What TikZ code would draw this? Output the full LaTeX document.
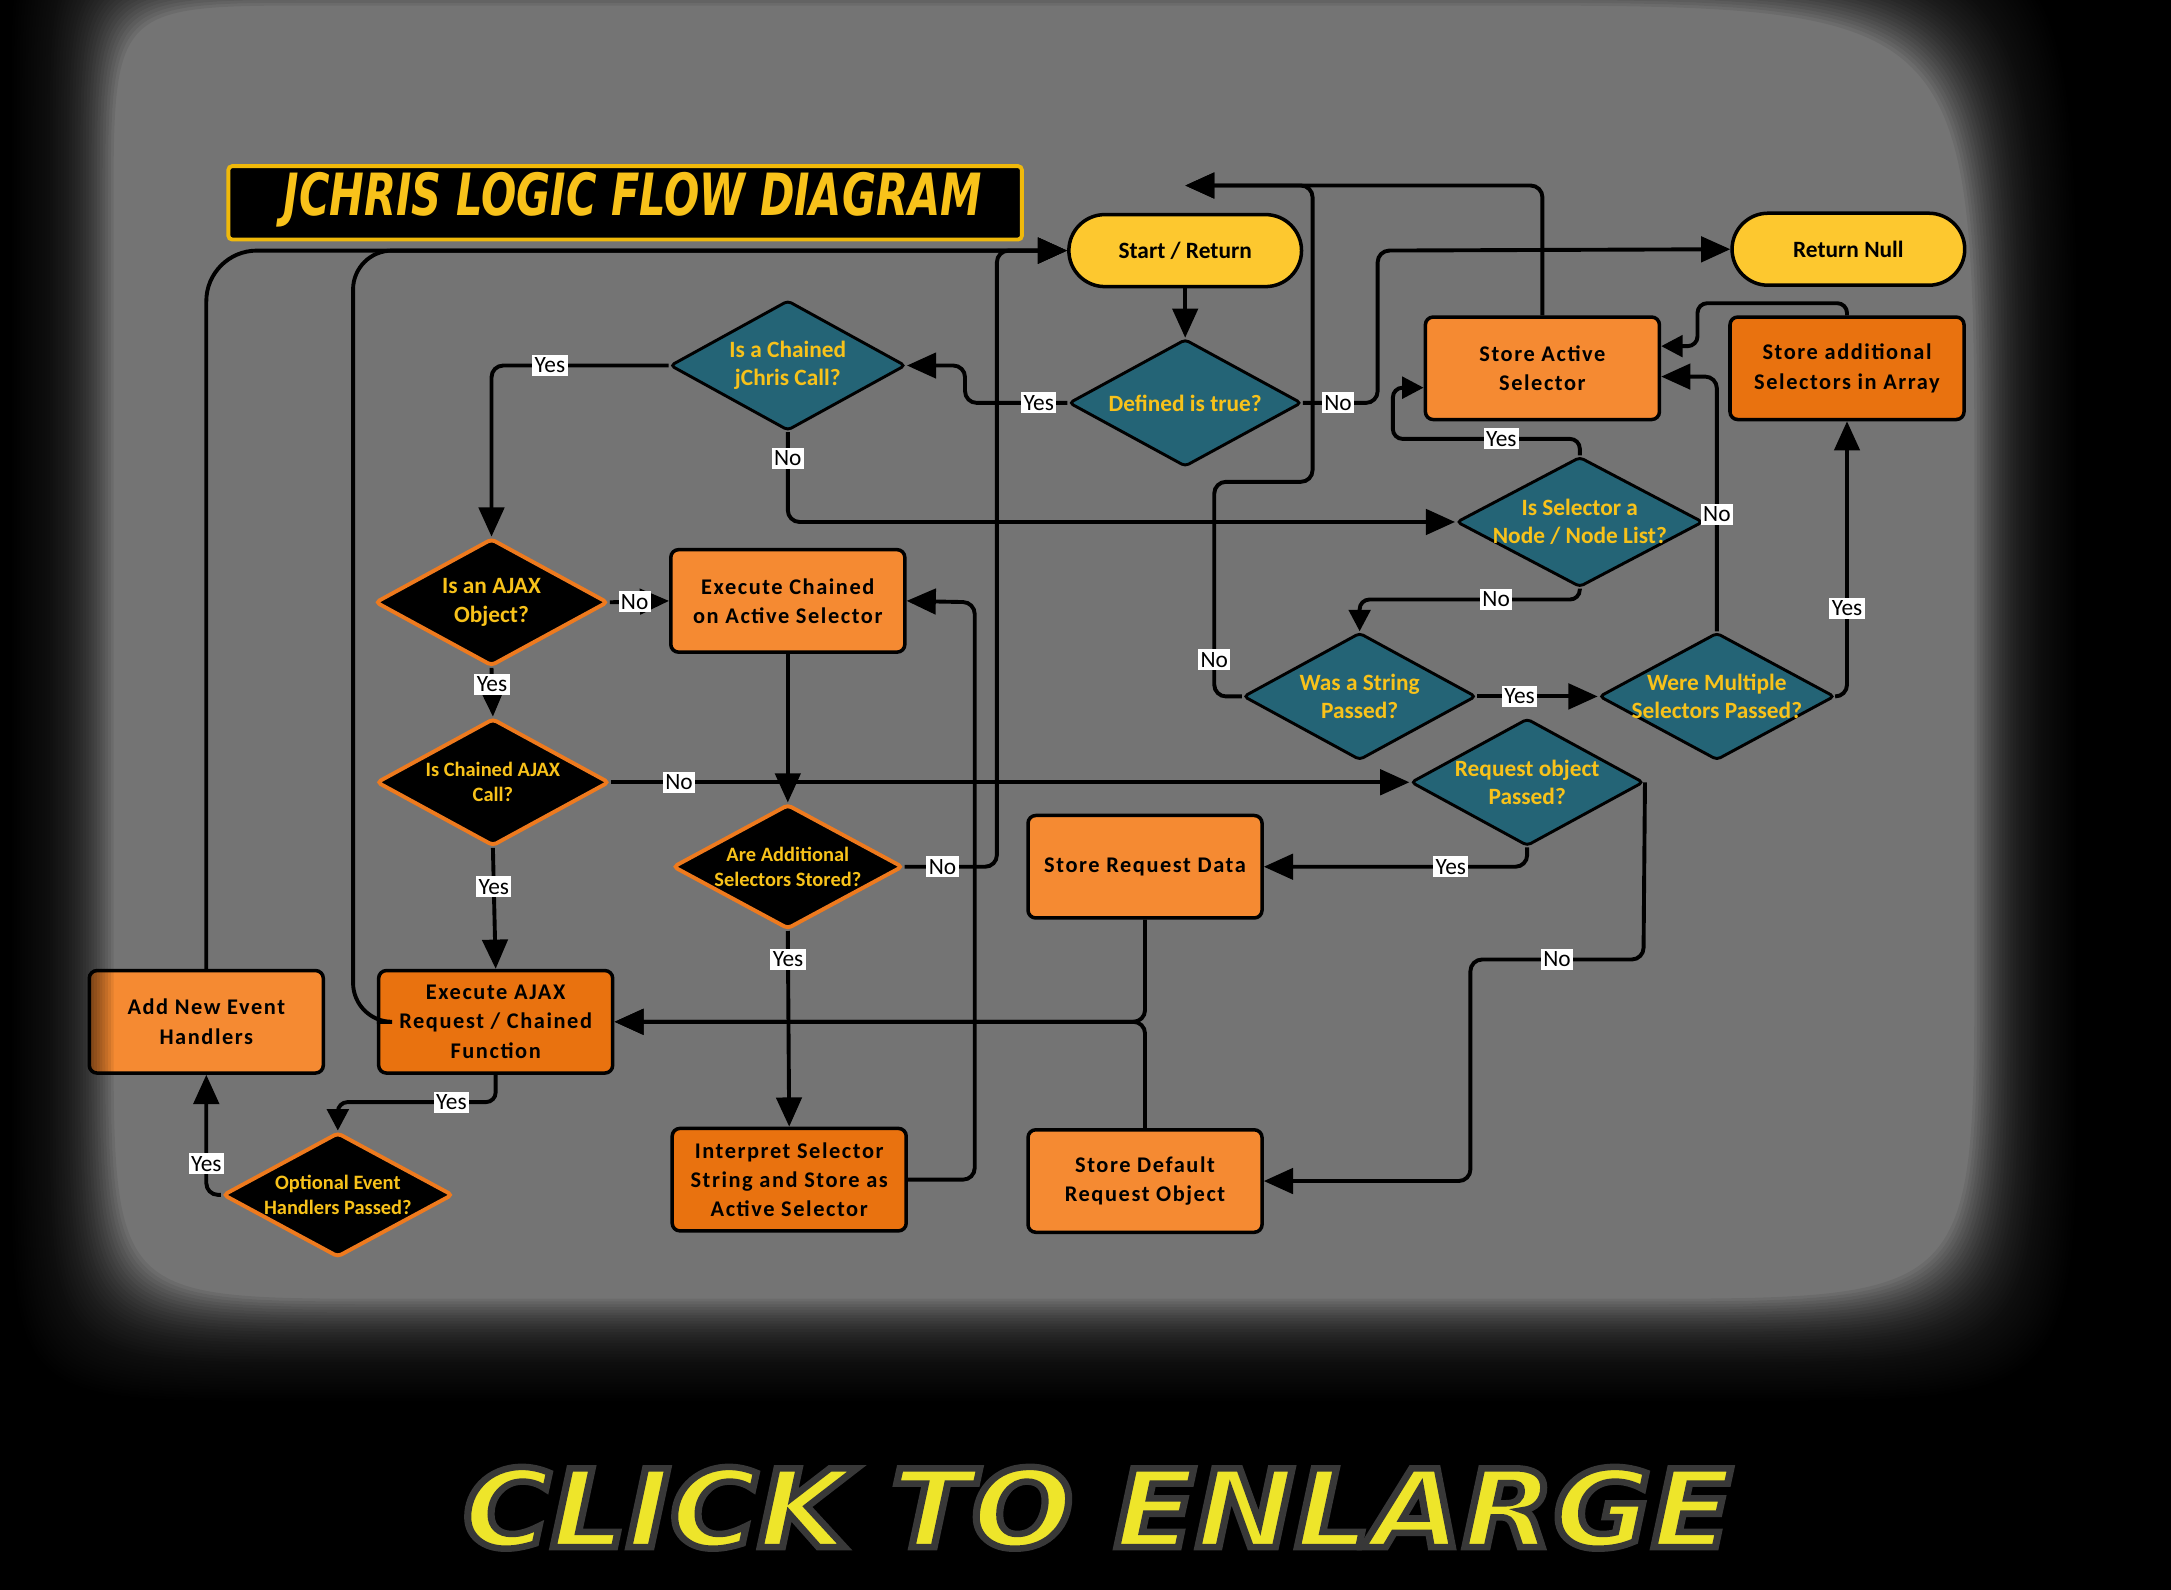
\documentclass[tikz,border=0pt]{standalone}
\usepackage{fontspec}
\usepackage{graphicx}
\usetikzlibrary{shapes.geometric,arrows.meta}
\setmainfont{Carlito}
\newfontfamily\boxfont[LetterSpace=7]{Carlito}
\newfontfamily\brushfont{DejaVu Sans}
\newfontfamily\clickfont{DejaVu Sans}[BoldItalicFeatures={FakeBold=6}]
\definecolor{bggray}{HTML}{747474}
\definecolor{pillyellow}{HTML}{FDC82F}
\definecolor{tealfill}{HTML}{246476}
\definecolor{goldtext}{HTML}{F8C21A}
\definecolor{orangeL}{HTML}{F58A32}
\definecolor{orangeD}{HTML}{E9720F}
\definecolor{dorange}{HTML}{EE7A1E}
\definecolor{titleborder}{HTML}{F0B90A}
\definecolor{clickyellow}{HTML}{EEE52A}
\begin{document}
\begin{tikzpicture}[x=0.025cm,y=-0.025cm,
 boxbase/.style={draw=black, line width=1.8pt, rounded corners=4pt, minimum width=4.225cm, minimum height=1.85cm, align=center, text=black, inner sep=2pt, font=\boxfont\bfseries\fontsize{11.5}{15}\selectfont},
 boxL/.style={boxbase, fill=orangeL},
 boxD/.style={boxbase, fill=orangeD},
 pill/.style={draw=black, line width=1.8pt, fill=pillyellow, rounded corners=0.65cm, minimum width=4.2cm, minimum height=1.3cm, text=black, font=\bfseries\fontsize{12}{14}\selectfont},
 tdia/.style={diamond, draw=black, line width=1.5pt, fill=tealfill, minimum width=4.2cm, minimum height=2.3cm, inner sep=0pt, rounded corners=2pt},
 bdia/.style={diamond, draw=dorange, line width=2pt, fill=black, minimum width=4.2cm, minimum height=2.3cm, inner sep=0pt, rounded corners=2pt},
 dtext/.style={text=goldtext, align=center, inner sep=0pt, font=\bfseries\fontsize{12}{14.5}\selectfont},
 dtexts/.style={text=goldtext, align=center, inner sep=0pt, font=\bfseries\fontsize{10.5}{12.8}\selectfont},
 conn/.style={draw=black, line width=2pt, rounded corners=6pt, -{Triangle[length=15pt,width=13pt]}},
 sconn/.style={draw=black, line width=2pt, rounded corners=5pt, -{Triangle[length=11pt,width=11pt]}},
 lbl/.style={fill=white, text=black, sharp corners, inner xsep=1.2pt, inner ysep=1.5pt, font=\fontsize{12}{13}\selectfont},
]
\useasboundingbox (0,0) rectangle (1568,1148);
\fill[bggray] (0,0) rectangle (1568,1148);

% title
\node[draw=titleborder, line width=2pt, fill=black, minimum width=14.325cm, minimum height=1.325cm, inner sep=0pt, rounded corners=2pt] (titlebox) at (451.5,146.5) {};
\node[text=goldtext, inner sep=0pt] (titletext) at (457,144) {\resizebox{12.6cm}{0.78cm}{\brushfont\bfseries\itshape JCHRIS LOGIC FLOW DIAGRAM}};

% nodes
\node[pill] (start) at (856,181) {Start / Return};
\node[pill] (retnull) at (1335,180) {Return Null};
\node[tdia] (defined) at (856,291) {};
\node[dtext] (definedt) at (defined) {Defined is true?};
\node[tdia, minimum width=4.25cm, minimum height=2.35cm] (chained) at (569,264) {};
\node[dtext] (chainedt) at (chained) {Is a Chained\\jChris Call?};
\node[boxL] (storeact) at (1114,266) {Store Active\\Selector};
\node[boxD] (storeadd) at (1334,266) {Store additional\\Selectors in Array};
\node[tdia, minimum width=4.45cm, minimum height=2.35cm] (isnode) at (1141,377) {};
\node[dtext] (isnodet) at (isnode) {Is Selector a\\Node / Node List?};
\node[bdia] (isajax) at (355,435) {};
\node[dtext] (isajaxt) at (isajax) {Is an AJAX\\Object?};
\node[boxL] (execch) at (569,434) {Execute Chained\\on Active Selector};
\node[tdia] (wasstr) at (982,503) {};
\node[dtext] (wasstrt) at (wasstr) {Was a String\\Passed?};
\node[tdia, minimum width=4.25cm] (multi) at (1240,503) {};
\node[dtext] (multit) at (multi) {Were Multiple\\Selectors Passed?};
\node[tdia] (reqobj) at (1103,565) {};
\node[dtext] (reqobjt) at (reqobj) {Request object\\Passed?};
\node[bdia] (chajax) at (356,565) {};
\node[dtexts] (chajaxt) at (chajax) {Is Chained AJAX\\Call?};
\node[bdia, minimum width=4.15cm, minimum height=2.25cm] (areadd) at (569,626) {};
\node[dtexts] (areaddt) at (areadd) {Are Additional\\Selectors Stored?};
\node[boxL] (storereq) at (827,626) {Store Request Data};
\node[boxL] (addev) at (149,738) {Add New Event\\Handlers};
\node[boxD] (execajax) at (358,738) {Execute AJAX\\Request / Chained\\Function};
\node[bdia, minimum width=4.15cm, minimum height=2.25cm] (opt) at (244,863) {};
\node[dtexts] (optt) at (opt) {Optional Event\\Handlers Passed?};
\node[boxD] (interp) at (570,852) {Interpret Selector\\String and Store as\\Active Selector};
\node[boxL] (storedef) at (827,853) {Store Default\\Request Object};

% connectors
\draw[conn] (start.south) -- (defined.north);
\draw[conn] (defined.west) -- node[lbl,pos=0.28] (l1) {Yes} (697,291) -- (697,264) -- (chained.east);
\draw[conn] (chained.west) -- node[lbl,pos=0.67] (l2) {Yes} (355,264) -- (isajax.north);
\draw[conn] (chained.south) -- node[lbl,pos=0.29] (l3) {No} (569,377) -- (isnode.west);
\draw[conn] (defined.east) -- node[lbl,pos=0.47] (l4) {No} (995,291) -- (995,181) -- (retnull.west);
\draw[conn] (storeact.north) -- (1114,134) -- (start.north |- 0,134);
\draw[conn] (wasstr.west) -- (877,503) -- node[lbl,pos=0.17] (l7) {No} (877,348) -- (948,348) -- (948,134) -- (start.north |- 0,134);
\draw[sconn] (isnode.north) -- (1141,317) -- node[lbl,pos=0.42] (l8) {Yes} (1006,317) -- (1006,280) -- (storeact.west |- 0,280);
\draw[conn] (multi.north) -- node[lbl,pos=0.46] (l9) {No} (multi.north |- 0,272) -- (storeact.east |- 0,272);
\draw[sconn] (storeadd.north) -- (storeadd.north |- 0,219) -- (1226,219) -- (1226,250) -- (storeact.east |- 0,250);
\draw[conn] (multi.east) -- (storeadd.south |- multi.east) -- node[lbl,pos=0.32] (l10) {Yes} (storeadd.south);
\draw[conn] (wasstr.east) -- node[lbl,pos=0.35] (l11) {Yes} (multi.west);
\draw[sconn] (isnode.south) -- (1141,433) -- node[lbl,pos=0.38] (l12) {No} (wasstr.north |- 0,433) -- (wasstr.north);
\draw[conn] (isajax.east) -- node[lbl,pos=0.42] (l13) {No} (execch.west);
\draw[conn] (isajax.south) -- node[lbl,pos=0.34] (l14) {Yes} (chajax.north);
\draw[conn] (chajax.east) -- node[lbl,pos=0.085] (l15) {No} (reqobj.west);
\draw[conn] (chajax.south) -- node[lbl,pos=0.32] (l16) {Yes} (execajax.north);
\draw[conn] (execch.south) -- (areadd.north);
\draw[conn] (areadd.south) -- node[lbl,pos=0.145] (l17) {Yes} (interp.north);
\draw[conn] (areadd.east) -- node[lbl,pos=0.41] (l18) {No} (720,626) -- (720,181) -- (start.west);
\draw[conn] (interp.east) -- (704,852) -- (704,435) -- (execch.east);
\draw[conn] (storereq.south) -- (827,738) -- (execajax.east);
\draw[conn] (storedef.north) -- (827,738) -- (execajax.east);
\draw[conn] (reqobj.south) -- (1103,626) -- node[lbl,pos=0.29] (l19) {Yes} (storereq.east);
\draw[conn] (reqobj.east) -- (1187,693) -- node[lbl,pos=0.5] (l20) {No} (1062,693) -- (1062,853) -- (storedef.east);
\draw[sconn] (execajax.south) -- (358,796) -- node[lbl,pos=0.28] (l21) {Yes} (244,796) -- (opt.north);
\draw[conn] (opt.west) -- (149,863) -- node[lbl,pos=0.26] (l22) {Yes} (addev.south);
\draw[conn, rounded corners=26pt] (addev.north) -- (addev.north |- start.west) -- (start.west);
\draw[conn, rounded corners=20pt] (execajax.west) -- (255,738) -- (start.west -| 255,0) -- (start.west);

% vignette
\foreach \t in {0,2,...,74}{
 \pgfmathsetmacro\L{8+\t}
 \pgfmathsetmacro\R{1500-\t}
 \pgfmathsetmacro\T{-70+\t}
 \pgfmathsetmacro\B{1012-\t}
 \fill[black,opacity=0.07,even odd rule] (-20,-80) rectangle (1600,1200)
   (\L+150,\T) -- (\R-360,\T) .. controls (\R,\T) .. (\R,\T+360) -- (\R,\B-250) .. controls (\R,\B) .. (\R-250,\B) -- (\L+200,\B) .. controls (\L,\B) .. (\L,\B-200) -- (\L,\T+150) .. controls (\L,\T) .. cycle;
}
\fill[black,even odd rule] (-20,-80) rectangle (1600,1200)
   (158,-70) -- (1140,-70) .. controls (1500,-70) .. (1500,290) -- (1500,762) .. controls (1500,1012) .. (1250,1012) -- (208,1012) .. controls (8,1012) .. (8,812) -- (8,80) .. controls (8,-70) .. cycle;

% click to enlarge
\node[inner sep=0pt] (click) at (793,1089) {\resizebox{22.9cm}{1.45cm}{\color{clickyellow}\special{pdf:code 0.22 0.22 0.22 RG}\clickfont\bfseries\itshape CLICK TO ENLARGE}};
\end{tikzpicture}
\end{document}
